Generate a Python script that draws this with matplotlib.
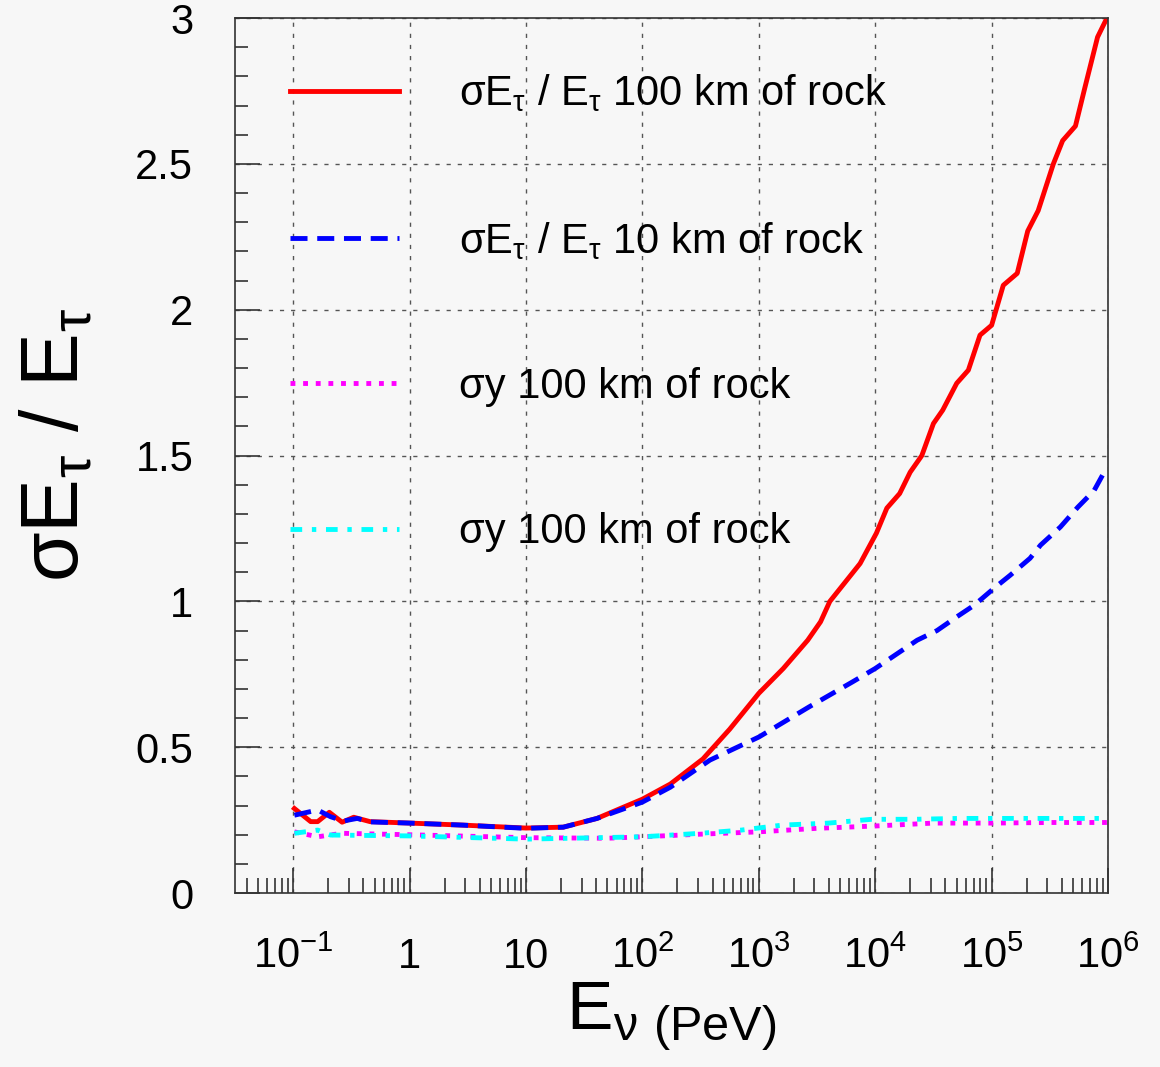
import numpy as np
import matplotlib
matplotlib.use("Agg")
import matplotlib.pyplot as plt
from matplotlib.ticker import LogLocator, MultipleLocator, NullFormatter

# values, x given as log10(E / PeV)
red_logE = [-0.99, -0.85, -0.79, -0.69, -0.58, -0.48, -0.34, 0.0, 0.46, 1.0,
            1.32, 1.61, 1.81, 2.0, 2.24, 2.52, 2.75, 3.0, 3.21, 3.42, 3.53,
            3.61, 3.87, 4.01, 4.10, 4.21, 4.30, 4.40, 4.50, 4.58, 4.70, 4.80,
            4.90, 5.0, 5.10, 5.22, 5.31, 5.40, 5.53, 5.61, 5.72, 5.80, 5.91, 5.99]
red_val = [0.29, 0.245, 0.245, 0.277, 0.243, 0.26, 0.245, 0.24, 0.233, 0.223,
           0.226, 0.256, 0.29, 0.322, 0.374, 0.46, 0.562, 0.685, 0.77, 0.867, 0.93,
           1.0, 1.13, 1.234, 1.32, 1.37, 1.443, 1.50, 1.61, 1.656, 1.748, 1.793,
           1.913, 1.947, 2.084, 2.125, 2.27, 2.34, 2.5, 2.58, 2.63, 2.76, 2.935, 3.0]

blue_logE = [-0.99, -0.79, -0.68, -0.57, -0.45, -0.34, 0.0, 0.46, 0.75, 1.0,
             1.32, 1.61, 1.89, 2.0, 2.24, 2.58, 3.0, 3.43, 3.80, 4.0, 4.36,
             4.53, 4.70, 4.85, 5.02, 5.16, 5.33, 5.42, 5.59, 5.74, 5.88, 5.99]
blue_val = [0.267, 0.285, 0.262, 0.247, 0.256, 0.244, 0.24, 0.233, 0.227, 0.222,
            0.226, 0.256, 0.296, 0.312, 0.363, 0.456, 0.535, 0.638, 0.723, 0.77, 0.867,
            0.9, 0.947, 0.987, 1.045, 1.09, 1.148, 1.193, 1.255, 1.323, 1.38, 1.46]

mag_logE = [-0.99, -0.79, -0.58, 0.0, 1.0, 1.7, 2.0, 2.5, 3.0, 3.5, 4.0, 4.5,
            5.0, 5.5, 5.99]
mag_val = [0.21, 0.193, 0.205, 0.2, 0.19, 0.188, 0.193, 0.202, 0.21, 0.222, 0.23,
           0.24, 0.24, 0.242, 0.242]

cyan_logE = [-0.99, -0.79, -0.68, 0.0, 1.0, 2.0, 2.5, 2.85, 3.2, 3.6, 3.97,
             4.34, 4.72, 5.1, 5.5, 5.95]
cyan_val = [0.205, 0.216, 0.199, 0.196, 0.185, 0.193, 0.205, 0.216, 0.233, 0.24,
            0.253, 0.253, 0.256, 0.256, 0.256, 0.256]

labels = ["σE$_{\\mathregular{τ}}$ / E$_{\\mathregular{τ}}$ 100 km of rock",
          "σE$_{\\mathregular{τ}}$ / E$_{\\mathregular{τ}}$ 10 km of rock",
          "σy 100 km of rock",
          "σy 100 km of rock"]

x_ticks = [0.1, 1, 10, 100, 1e3, 1e4, 1e5, 1e6]
x_ticklabels = ["$\\mathregular{10^{-1}}$", "1", "10", "$\\mathregular{10^{2}}$",
                "$\\mathregular{10^{3}}$", "$\\mathregular{10^{4}}$",
                "$\\mathregular{10^{5}}$", "$\\mathregular{10^{6}}$"]
y_ticks = [0, 0.5, 1, 1.5, 2, 2.5, 3]
y_ticklabels = ["0", "0.5", "1", "1.5", "2", "2.5", "3"]

plt.rcParams['font.family'] = ['Liberation Sans', 'DejaVu Sans']
plt.rcParams['mathtext.fontset'] = 'custom'
plt.rcParams['mathtext.rm'] = 'Liberation Sans'

bg = '#f7f7f7'
fig = plt.figure(figsize=(11.6, 10.67), dpi=100, facecolor=bg)
ax = fig.add_axes([0.2026, 0.163, 0.7526, 0.820])
ax.set_facecolor(bg)

lw = 3.5
ax.plot(10.0 ** np.array(red_logE), red_val, color='#ff0000', lw=lw, label=labels[0])
ax.plot(10.0 ** np.array(blue_logE), blue_val, color='#0000ff', lw=lw,
        linestyle=(0, (3.5, 2.0)), label=labels[1])
ax.plot(10.0 ** np.array(mag_logE), mag_val, color='#ff00ff', lw=lw,
        linestyle=(0, (1.0, 1.6)), label=labels[2])
ax.plot(10.0 ** np.array(cyan_logE), cyan_val, color='#00ffff', lw=lw,
        linestyle=(0, (2.4, 2.0, 0.9, 2.0)), label=labels[3])

ax.set_xscale('log')
ax.set_xlim(10 ** -1.5, 1e6)
ax.set_ylim(0, 3)

ax.set_xticks(x_ticks)
ax.set_xticklabels(x_ticklabels)
ax.xaxis.set_minor_locator(LogLocator(base=10, subs=np.arange(2, 10), numticks=20))
ax.xaxis.set_minor_formatter(NullFormatter())
ax.set_yticks(y_ticks)
ax.set_yticklabels(y_ticklabels)
ax.yaxis.set_minor_locator(MultipleLocator(0.1))

ax.tick_params(which='both', direction='in', top=False, right=False, color='#333333')
ax.tick_params(axis='x', which='major', length=18, width=1.2, labelsize=30, pad=54)
ax.tick_params(axis='x', which='minor', length=11, width=1.2)
ax.tick_params(axis='y', which='major', length=18, width=1.2, labelsize=30, pad=30)
ax.tick_params(axis='y', which='minor', length=9, width=1.2)
plt.setp(ax.get_xticklabels(), va='baseline')

ax.grid(True, which='major', color='#555555', linestyle=(0, (3, 5)), linewidth=1)
for s in ax.spines.values():
    s.set_color('#333333')
    s.set_linewidth(1.2)

ax.set_ylabel("σE$_{\\mathregular{τ}}$ / E$_{\\mathregular{τ}}$", fontsize=58)
ax.yaxis.set_label_coords(-0.16, 0.512)
ax.set_xlabel("E$_{\\mathregular{ν\\ (PeV)}}$", fontsize=50)
ax.xaxis.set_label_coords(0.5, -0.10)

ax.legend(loc='upper left', bbox_to_anchor=(0.063, 0.938), frameon=False,
          fontsize=30, handlelength=2.62, handletextpad=1.43, labelspacing=2.53,
          borderpad=0, borderaxespad=0)

fig.savefig('out.png', dpi=100, facecolor=bg)
